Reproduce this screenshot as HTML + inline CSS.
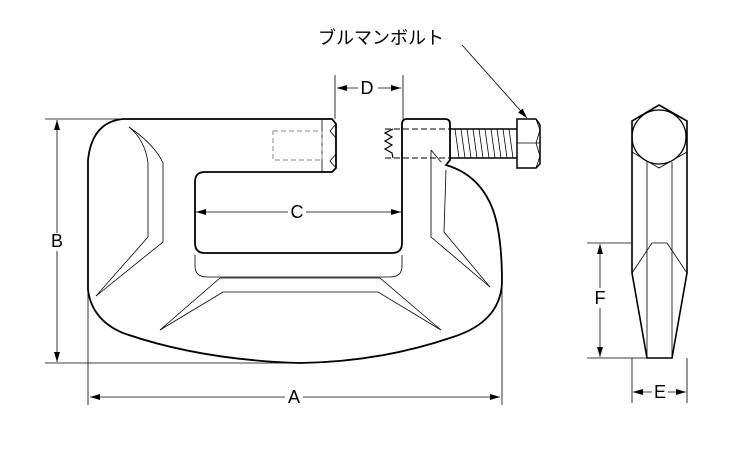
<!DOCTYPE html>
<html><head><meta charset="utf-8"><style>
html,body{margin:0;padding:0;background:#fff;}
svg{display:block;}
text{font-family:"Liberation Sans","Noto Sans CJK JP",sans-serif;font-size:18px;fill:#000;}
</style></head><body>
<svg width="750" height="450" viewBox="0 0 750 450" xmlns="http://www.w3.org/2000/svg">
<defs>
<marker id="ar" markerWidth="10" markerHeight="8" refX="10" refY="4" orient="auto-start-reverse" markerUnits="userSpaceOnUse">
<path d="M0,1 L10,4 L0,7 Z" fill="#000"/></marker>
</defs>
<g fill="none" stroke="#000">
<path stroke-width="1.8" d="M123,119 L332,119 L336,124 L336,168 L332,172 L205,172 Q195,172 195,182 L195,243 Q195,253 205,253 L392,253 Q402,253 402,243 L402,124 Q402,119 407,119 L445,119 Q450,119 450,124 L450,160 L446,165 Q480,175 493,210 Q502,235 502,283 Q500,322 453,337 Q380,362 300,363 Q200,360 123,333 Q92,320 88,290 L88,160 Q92,122 123,119 Z"/>
<g stroke-width="0.8">
<path d="M129,127 Q145,140 148,163 L148,237 L96,296"/>
<path d="M129,127 Q155,145 163,163 L163,242 L96,296"/>
<path d="M160,330 L220,278 L380,278 L441,330"/>
<path d="M160,330 L223,292 L378,292 L441,330"/>
<path d="M195,255 L195,266 Q195,277 207,277 L390,277 Q402,277 402,266 L402,255"/>
<path d="M431,150 L431,237 L490,287"/>
<path d="M446,170 L444,232 L490,287"/>
<path d="M431,150 L441,162"/>
<line x1="322" y1="119" x2="322" y2="172"/>
<path d="M336,124 L330,131 L336,138 M336,154 L330,161 L336,168" />
</g>
<rect x="273" y="131" width="49" height="29" stroke="#888" stroke-width="1" stroke-dasharray="5,3"/>
<path stroke-width="1" stroke-dasharray="6,3" d="M385,129 L450,129 M385,158 L450,158"/>
<path stroke-width="1.2" d="M393,129 L385,133 L392,137 L385,141 L392,145 L385,149 L392,153 L393,158"/>
<path stroke-width="1.5" d="M450,129 L517,129 M450,158 L517,158"/>
<g stroke-width="0.8">
<path d="M455,129 l4,29 M461,129 l4,29 M467,129 l4,29 M473,129 l4,29 M479,129 l4,29 M485,129 l4,29 M491,129 l4,29 M497,129 l4,29 M503,129 l4,29 M509,129 l4,29"/>
</g>
<path stroke-width="1.5" d="M517,119 L536,119 L540,125 L540,164 L536,168 L517,168 Z"/>
<path stroke-width="0.8" d="M517,143 L540,143 M536,119 L540,130 L536,143 L540,156 L536,168"/>
<!-- side view -->
<path stroke-width="1.6" d="M659,105 L687,121 L687,273 L672,358 L647,358 L632,273 L632,121 Z"/>
<circle cx="659" cy="137" r="27" stroke-width="1.3"/>
<g stroke-width="0.8">
<path d="M632,152 L659,168 L687,152"/>
<line x1="647" y1="162" x2="647" y2="358"/>
<line x1="672" y1="162" x2="672" y2="358"/>
<path d="M632,273 L652,243 L667,243 L687,273"/>
</g>
<g stroke-width="0.8">
<line x1="335" y1="75" x2="335" y2="119"/>
<line x1="403" y1="75" x2="403" y2="119"/>
<line x1="337" y1="88" x2="358" y2="88" marker-start="url(#ar)"/>
<line x1="378" y1="88" x2="401" y2="88" marker-end="url(#ar)"/>
<line x1="196" y1="212" x2="288" y2="212" marker-start="url(#ar)"/>
<line x1="306" y1="212" x2="401" y2="212" marker-end="url(#ar)"/>
<line x1="45" y1="119" x2="123" y2="119"/>
<line x1="45" y1="363" x2="300" y2="363"/>
<line x1="57" y1="120" x2="57" y2="233" marker-start="url(#ar)"/>
<line x1="57" y1="251" x2="57" y2="362" marker-end="url(#ar)"/>
<line x1="88" y1="290" x2="88" y2="405"/>
<line x1="502" y1="283" x2="502" y2="405"/>
<line x1="90" y1="397" x2="285" y2="397" marker-start="url(#ar)"/>
<line x1="303" y1="397" x2="500" y2="397" marker-end="url(#ar)"/>
<line x1="587" y1="243" x2="632" y2="243"/>
<line x1="587" y1="358" x2="647" y2="358"/>
<line x1="600" y1="244" x2="600" y2="288" marker-start="url(#ar)"/>
<line x1="600" y1="308" x2="600" y2="357" marker-end="url(#ar)"/>
<line x1="632" y1="358" x2="632" y2="403"/>
<line x1="687" y1="358" x2="687" y2="403"/>
<line x1="633" y1="392" x2="652" y2="392" marker-start="url(#ar)"/>
<line x1="668" y1="392" x2="686" y2="392" marker-end="url(#ar)"/>
<line x1="462" y1="45" x2="527" y2="118" marker-end="url(#ar)"/>
</g>
</g>
<text x="367" y="94" text-anchor="middle">D</text>
<text x="297" y="218" text-anchor="middle">C</text>
<text x="57" y="247" text-anchor="middle">B</text>
<text x="294" y="403" text-anchor="middle">A</text>
<text x="600" y="304" text-anchor="middle">F</text>
<text x="660" y="398" text-anchor="middle">E</text>
<text x="318" y="44">ブルマンボルト</text>
</svg>
</body></html>
